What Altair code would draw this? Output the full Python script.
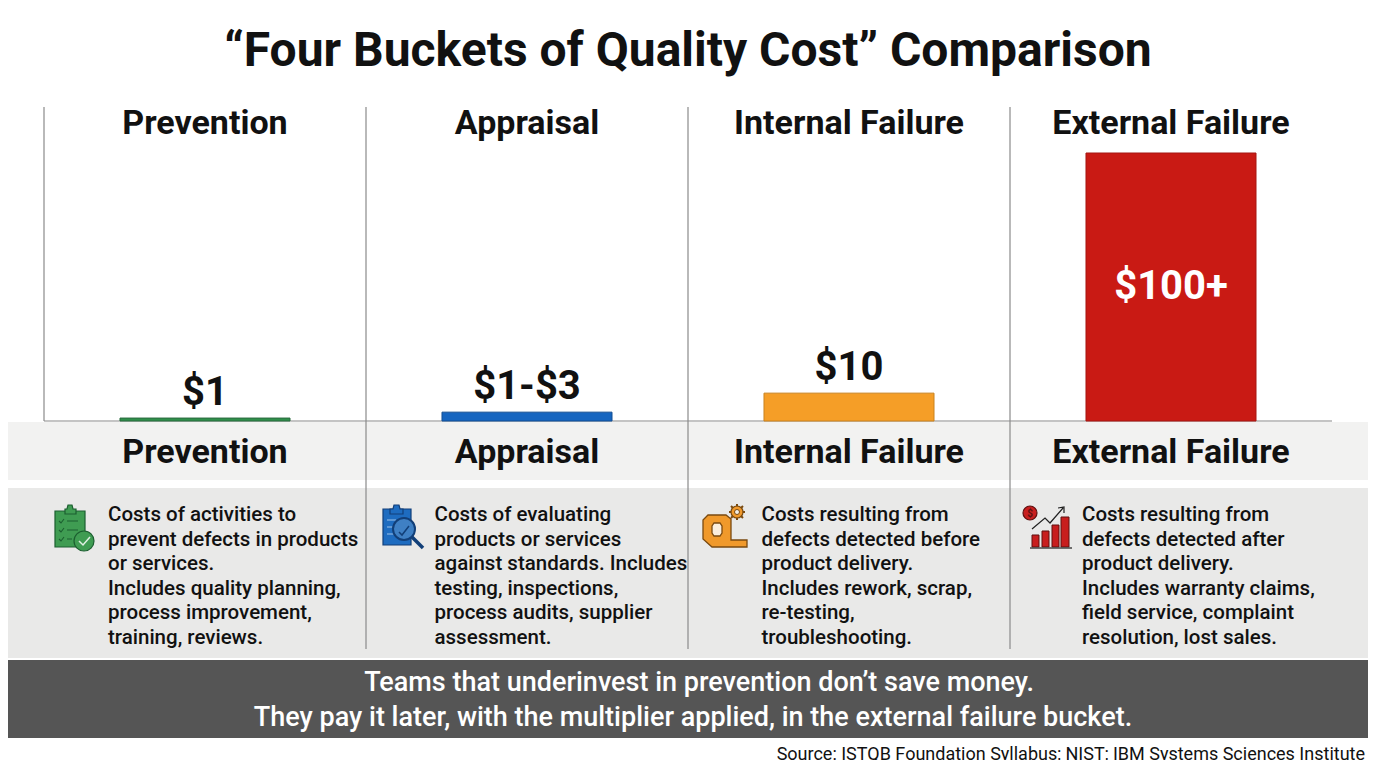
import re
import altair as alt
import pandas as pd

categories = ["Prevention", "Appraisal", "Internal Failure", "External Failure"]
bar_values = [1.1, 3.3, 10.4, 100]
value_labels = ["$1", "$1-$3", "$10", "$100+"]
bar_colors = ["#2f8f4a", "#1565c0", "#f59e27", "#c91a14"]
bar_strokes = ["#2a6b3e", "#134f93", "#c9821f", "#a51612"]

title_text = "\u201cFour Buckets of Quality Cost\u201d Comparison"
desc_lines = [
    ["Costs of activities to", "prevent defects in products", "or services.",
     "Includes quality planning,", "process improvement,", "training, reviews."],
    ["Costs of evaluating", "products or services", "against standards. Includes",
     "testing, inspections,", "process audits, supplier", "assessment."],
    ["Costs resulting from", "defects detected before", "product delivery.",
     "Includes rework, scrap,", "re-testing,", "troubleshooting."],
    ["Costs resulting from", "defects detected after", "product delivery.",
     "Includes warranty claims,", "field service, complaint", "resolution, lost sales."],
]
desc_left = [108, 434.5, 761.5, 1082]
banner_lines = ["Teams that underinvest in prevention don\u2019t save money.",
                "They pay it later, with the multiplier applied, in the external failure bucket."]
source_text = "Source: ISTQB Foundation Syllabus; NIST; IBM Systems Sciences Institute"

FONT = "Roboto"
M = 8  # page margin
dummy = pd.DataFrame({"k": [0]})
bars = pd.DataFrame({"cat": categories, "value": bar_values, "label": value_labels,
                     "fill": bar_colors, "edge": bar_strokes})

X = alt.X("cat:N", scale=alt.Scale(domain=categories, range=[44 - M, 1332 - M],
                                   paddingInner=0.472, paddingOuter=0.236), axis=None)
Y_SCALE = alt.Scale(domain=[0, 100], range=[421 - M, 153 - M])
Y = alt.Y("value:Q", scale=Y_SCALE, axis=None)


def band(x0, x1, y0, y1, color):
    return alt.Chart(dummy).mark_rect(color=color).encode(
        x=alt.value(x0 - M), x2=alt.value(x1 - M), y=alt.value(y0 - M), y2=alt.value(y1 - M))


def rule(x0, x1, y0, y1, color="#8a8a8a", w=1.2):
    return alt.Chart(dummy).mark_rule(color=color, strokeWidth=w).encode(
        x=alt.value(x0 - M), x2=alt.value(x1 - M), y=alt.value(y0 - M), y2=alt.value(y1 - M))


def label(txt, x, y, size, weight=500, color="#111111", align="left"):
    return alt.Chart(pd.DataFrame({"t": [txt]})).mark_text(
        font=FONT, fontSize=size, fontWeight=weight, color=color, align=align, baseline="middle"
    ).encode(x=alt.value(x - M), y=alt.value(y - M), text="t:N")


def header(y):
    return alt.Chart(bars).mark_text(
        font=FONT, fontSize=34, fontWeight=700, color="#111111", baseline="middle"
    ).encode(x=X, y=alt.value(y - M), text="cat:N")


UNIT = 32.0


def shape(path, cx, cy, fill=None, stroke=None, w=1.0):
    def conv(m):
        return f"{m.group(1)}{(float(m.group(2)) - cx) / UNIT:.4f} {(float(m.group(3)) - cy) / UNIT:.4f}"
    unit_path = re.sub(r"([ML])(-?[\d.]+) (-?[\d.]+)", conv, path)
    kw = dict(shape=unit_path, size=(2 * UNIT) ** 2, opacity=1, strokeWidth=w)
    kw["filled"] = fill is not None
    kw["fill"] = fill if fill is not None else "transparent"
    kw["stroke"] = stroke if stroke else "transparent"
    return alt.Chart(dummy).mark_point(**kw).encode(x=alt.value(cx - M), y=alt.value(cy - M))


def dot(cx, cy, r, fill, stroke, w=1.2):
    return alt.Chart(dummy).mark_point(
        shape="circle", size=(2 * r) ** 2, filled=True, fill=fill, stroke=stroke, strokeWidth=w, opacity=1
    ).encode(x=alt.value(cx - M), y=alt.value(cy - M))


layers = [
    band(0, 1376, 422, 480, "#f2f2f1"),
    band(0, 1376, 488, 658, "#e9e9e8"),
    band(0, 1376, 660, 738, "#555555"),
    rule(44, 44, 107, 421),
    rule(366, 366, 107, 649),
    rule(688, 688, 107, 649),
    rule(1010, 1010, 107, 649),
    rule(44, 1332, 421, 421),
    alt.Chart(bars).mark_bar(strokeWidth=1).encode(
        x=X, y=Y, fill=alt.Fill("fill:N", scale=None), stroke=alt.Stroke("edge:N", scale=None)),
    alt.Chart(bars).transform_filter("datum.value < 50").mark_text(
        font=FONT, fontSize=40, fontWeight=700, color="#111111", baseline="middle", dy=-25
    ).encode(x=X, y=Y, text="label:N"),
    alt.Chart(bars).transform_filter("datum.value >= 50").transform_calculate(mid="datum.value / 2").mark_text(
        font=FONT, fontSize=40, fontWeight=700, color="#ffffff", baseline="middle"
    ).encode(x=X, y=alt.Y("mid:Q", scale=Y_SCALE, axis=None), text="label:N"),
    label(title_text, 688, 52, 48, 700, align="center"),
    header(124),
    header(453),
    label(banner_lines[0], 699, 683, 27, 500, "#ffffff", "center"),
    label(banner_lines[1], 693, 718, 27, 500, "#ffffff", "center"),
    label(source_text, 1365, 755, 18, 400, "#111111", "right"),
]

row_y = [515, 540, 564, 589, 613, 638]
for left, lines in zip(desc_left, desc_lines):
    for yy, line in zip(row_y, lines):
        layers.append(label(line, left, yy, 20.5, 500))

# clipboard icon
G, GD = "#3f9c52", "#1c5f30"
layers += [
    shape("M55 511 L85 511 L85 547 L55 547 Z", 70, 528, G, GD, 1.2),
    shape("M65 509 L67 509 L68 505 L72 505 L73 509 L76 509 L76 514 L65 514 Z", 70, 528, G, GD, 1.2),
    shape("M59 521 L61 523 L64 519 M67 521 L78 521 M59 530 L61 532 L64 528 M67 530 L78 530 "
          "M59 539 L61 541 L64 537 M67 539 L72 539", 70, 528, None, GD, 1.1),
    dot(84, 541, 10, G, GD),
    shape("M79 541 L83 545 L90 537", 84, 541, None, "#dff0e2", 1.5),
]
# magnifier icon
B, BD = "#1e6cc0", "#123f78"
layers += [
    shape("M383 509 L411 509 L411 545 L383 545 Z", 397, 527, B, BD, 1.2),
    shape("M390 509 L393 509 L394 505 L399 505 L400 509 L403 509 L403 514 L390 514 Z", 397, 527, B, BD, 1.2),
    shape("M387 520 L396 520 M387 527 L394 527 M387 534 L394 534", 397, 527, None, "#9cc2ea", 1.1),
    shape("M412 537 L423 548", 412, 537, None, BD, 3.5),
    dot(404, 529, 11, "#3f80c4", BD, 2),
    shape("M399 532 L402 535 L409 526", 404, 529, None, BD, 1.5),
]
# tape roll and gear icon
O, OD = "#f0992b", "#7a4a10"
layers += [
    shape("M708 515 L726 515 L731 519 L731 540 L747 540 L747 547 L712 547 L703 539 L703 520 Z",
          725, 531, O, OD, 1.3),
    shape("M714 523 L720 523 L722 526 L722 533 L720 536 L714 536 L712 533 L712 526 Z",
          717, 530, "#fbeedd", OD, 1.3),
    shape("M737 504 L737 520 M729 512 L745 512 M731 506 L743 518 M743 506 L731 518", 737, 512, None, OD, 2),
    dot(737, 512, 6, O, OD),
    dot(737, 512, 2.5, "#f5f0e6", OD, 1),
]
# revenue chart icon
R, RD = "#c81e1e", "#5e1010"
layers += [
    shape("M1032 535 L1039 535 L1039 547 L1032 547 Z", 1050, 530, R, RD, 1),
    shape("M1042 531 L1049 531 L1049 547 L1042 547 Z", 1050, 530, R, RD, 1),
    shape("M1052 525 L1059 525 L1059 547 L1052 547 Z", 1050, 530, R, RD, 1),
    shape("M1061 517 L1069 517 L1069 547 L1061 547 Z", 1050, 530, R, RD, 1),
    shape("M1030 548 L1072 548", 1050, 530, None, "#444444", 1.4),
    shape("M1032 529 L1045 518 L1050 523 L1063 508 M1058 508 L1064 507 L1064 513", 1050, 520, None, "#222222", 1.2),
    dot(1030, 513, 7, R, RD),
    label("$", 1030, 513.5, 10, 700, "#5e1010", "center"),
]

chart = alt.layer(*layers).properties(
    width=1360, height=752, padding=0, autosize=alt.AutoSizeParams(type="none"),
    background="white"
).configure_view(stroke=None)

chart.save("out.html", embed_options={"renderer": "svg", "actions": False})
